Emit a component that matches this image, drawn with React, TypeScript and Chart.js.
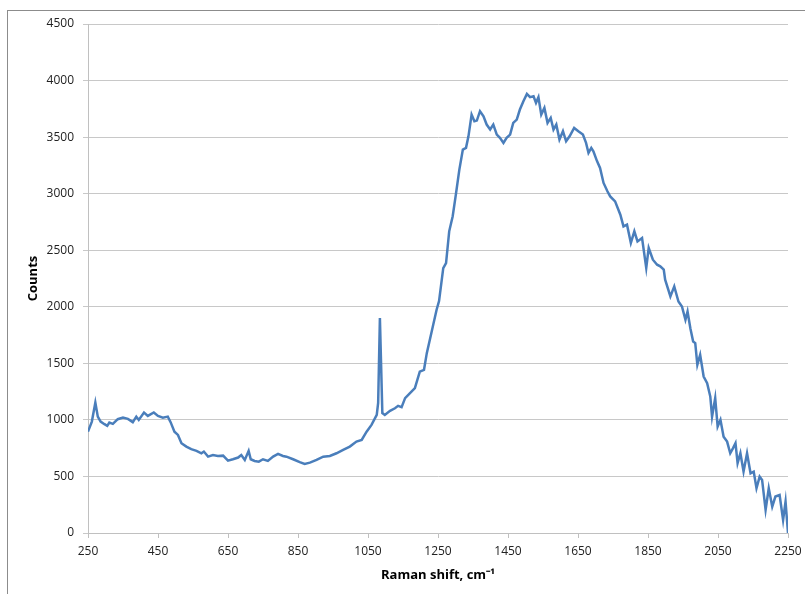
import React, { useEffect, useRef } from "react";
import { Chart, registerables } from "chart.js";

Chart.register(...registerables);

const ramanShift: number[] = [
  250, 261, 271, 278, 286, 297, 305, 311, 321, 335, 350, 364, 378, 388, 395, 410, 421, 438, 450, 464,
  478, 486, 497, 507, 517, 531, 545, 560, 574, 581, 593, 607, 621, 636, 650, 664, 679, 688, 698, 709,
  715, 726, 738, 750, 764, 779, 793, 807, 817, 836, 855, 869, 884, 903, 922, 941, 960, 979, 998, 1017,
  1032, 1046, 1060, 1075, 1079, 1084, 1091, 1098, 1113, 1127, 1136, 1146, 1156, 1170, 1184, 1198, 1210, 1218, 1232, 1246,
  1253, 1265, 1273, 1282, 1292, 1301, 1311, 1321, 1330, 1337, 1346, 1354, 1361, 1370, 1380, 1389, 1399, 1408, 1418, 1427,
  1437, 1446, 1456, 1465, 1475, 1484, 1494, 1504, 1513, 1523, 1530, 1537, 1545, 1554, 1563, 1572, 1580, 1588, 1597, 1607,
  1616, 1626, 1639, 1651, 1664, 1673, 1680, 1688, 1694, 1704, 1713, 1723, 1734, 1742, 1756, 1771, 1780, 1790, 1801, 1811,
  1820, 1833, 1845, 1852, 1864, 1876, 1885, 1895, 1899, 1914, 1925, 1937, 1947, 1957, 1963, 1971, 1979, 1985, 1991, 1999,
  2009, 2019, 2028, 2033, 2042, 2049, 2057, 2066, 2076, 2085, 2093, 2100, 2106, 2114, 2123, 2133, 2143, 2152, 2160, 2169,
  2176, 2186, 2195, 2205, 2214, 2226, 2236, 2243, 2250,
];

const counts: number[] = [
  896, 985, 1153, 1029, 985, 962, 947, 976, 965, 1006, 1020, 1009, 980, 1029, 1000, 1065, 1035, 1065, 1035, 1020,
  1029, 980, 896, 867, 794, 764, 741, 726, 705, 720, 675, 690, 681, 684, 640, 652, 667, 690, 646, 726,
  652, 637, 631, 652, 637, 675, 699, 681, 675, 652, 626, 611, 622, 646, 675, 681, 705, 735, 764, 808,
  823, 896, 956, 1044, 1150, 1900, 1060, 1044, 1080, 1103, 1124, 1112, 1192, 1236, 1280, 1427, 1443, 1590, 1781, 1974,
  2050, 2342, 2387, 2667, 2800, 2991, 3213, 3390, 3405, 3507, 3699, 3640, 3646, 3729, 3684, 3611, 3567, 3611, 3522, 3493,
  3449, 3493, 3522, 3626, 3655, 3744, 3817, 3882, 3853, 3861, 3803, 3853, 3699, 3758, 3626, 3670, 3567, 3611, 3478, 3552,
  3463, 3507, 3581, 3552, 3522, 3449, 3360, 3405, 3375, 3290, 3228, 3095, 3021, 2976, 2932, 2814, 2711, 2726, 2564, 2667,
  2578, 2608, 2343, 2520, 2416, 2372, 2357, 2328, 2239, 2091, 2180, 2047, 2003, 1885, 1958, 1811, 1693, 1679, 1487, 1575,
  1383, 1325, 1206, 1029, 1192, 941, 1000, 852, 808, 705, 750, 794, 617, 705, 543, 705, 528, 543, 396, 498,
  469, 204, 396, 233, 322, 336, 115, 277, 0,
];

const xTitle = "Raman shift, cm⁻¹";
const yTitle = "Counts";
const xMin = 250;
const xMax = 2250;
const xStep = 200;
const yMin = 0;
const yMax = 4500;
const yStep = 500;

const FONT = "'Open Sans', 'Liberation Sans', sans-serif";

export default function App() {
  const ref = useRef<HTMLCanvasElement | null>(null);

  useEffect(() => {
    if (!ref.current) return;
    const titlePlugin = {
      id: "axisTitles",
      afterDraw(chart: any) {
        const ctx = chart.ctx;
        const area = chart.chartArea;
        ctx.save();
        ctx.fillStyle = "#000";
        ctx.font = `bold 13px ${FONT}`;
        ctx.textAlign = "center";
        ctx.textBaseline = "middle";
        ctx.fillText(xTitle, (area.left + area.right) / 2, 575);
        ctx.translate(33, (area.top + area.bottom) / 2);
        ctx.rotate(-Math.PI / 2);
        ctx.fillText(yTitle, 0, 0);
        ctx.restore();
      },
    };
    const chart = new Chart(ref.current, {
      type: "scatter",
      data: {
        datasets: [
          {
            data: ramanShift.map((x, i) => ({ x, y: counts[i] })),
            showLine: true,
            borderColor: "#4A7EBB",
            borderWidth: 2.5,
            pointRadius: 0,
            tension: 0,
            fill: false,
          },
        ],
      },
      options: {
        animation: false,
        responsive: false,
        maintainAspectRatio: false,
        layout: { padding: { left: 0, right: 17, top: 24, bottom: 0 } },
        plugins: {
          legend: { display: false },
          tooltip: { enabled: false },
        },
        scales: {
          x: {
            type: "linear",
            min: xMin,
            max: xMax,
            afterBuildTicks(scale: any) {
              const t = [];
              for (let v = xMin; v <= xMax; v += xStep) t.push({ value: v });
              scale.ticks = t;
            },
            afterFit(scale: any) {
              scale.height = 61;
              scale.paddingLeft = 0;
              scale.paddingRight = 0;
            },
            grid: {
              drawOnChartArea: false,
              drawTicks: true,
              tickLength: 5,
              color: "#c0c0c0",
            },
            border: { color: "#c0c0c0", width: 1 },
            ticks: {
              color: "#222",
              font: { family: FONT, size: 12 },
              padding: 6,
              maxRotation: 0,
              autoSkip: false,
              callback: (v: any) => String(v),
            },
          },
          y: {
            type: "linear",
            min: yMin,
            max: yMax,
            afterFit(scale: any) {
              scale.width = 88;
            },
            grid: {
              drawOnChartArea: true,
              drawTicks: true,
              tickLength: 5,
              color: "#c8c8c8",
            },
            border: { color: "#c0c0c0", width: 1 },
            ticks: {
              stepSize: yStep,
              color: "#222",
              font: { family: FONT, size: 12 },
              padding: 9,
              callback: (v: any) => String(v),
            },
          },
        },
      },
      plugins: [titlePlugin],
    } as any);
    return () => chart.destroy();
  }, []);

  return (
    <div style={{ position: "absolute", left: 0, top: 0, width: 805, height: 594, background: "#fff", overflow: "hidden" }}>
      <div
        style={{
          position: "absolute",
          left: 7,
          top: 10,
          width: 820,
          height: 620,
          borderLeft: "1px solid #8c8c8c",
          borderTop: "1px solid #8c8c8c",
        }}
      />
      <canvas ref={ref} width={805} height={594} style={{ position: "absolute", left: 0, top: 0 }} />
    </div>
  );
}
